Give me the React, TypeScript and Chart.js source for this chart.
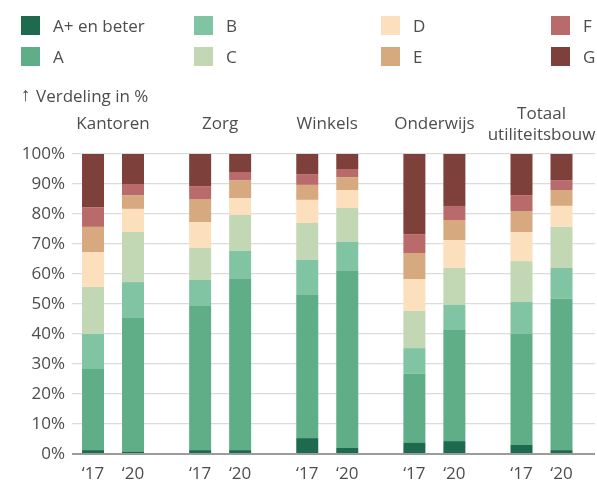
import React, { useEffect, useRef } from 'react';
import { Chart, registerables } from 'chart.js';

Chart.register(...registerables);

// ---------- data ----------
const groups: (string | string[])[] = ['Kantoren', 'Zorg', 'Winkels', 'Onderwijs', ['Totaal', 'utiliteitsbouw']];
const years = ['\u201817', '\u201820'];
const grades = ['A+ en beter', 'A', 'B', 'C', 'D', 'E', 'F', 'G'];
const gradeColors = ['#1d6a4e', '#5fae87', '#80c4a3', '#c2d7b4', '#fcdfbc', '#d6a97f', '#b96a6a', '#7e403b'];

// 2017 (Kantoren, Zorg, Winkels, Onderwijs, Totaal)
const aPlus17 = [1.3, 1.3, 5.3, 3.7, 3.0];
const a17 = [27.0, 48.0, 47.7, 23.0, 37.0];
const b17 = [11.7, 8.7, 11.7, 8.6, 10.7];
const c17 = [15.7, 10.7, 12.3, 12.4, 13.6];
const d17 = [11.6, 8.6, 7.7, 10.6, 9.7];
const e17 = [8.4, 7.7, 5.0, 8.7, 7.0];
const f17 = [6.6, 4.3, 3.6, 6.3, 5.3];
const g17 = [17.7, 10.7, 6.7, 26.7, 13.7];

// 2020
const aPlus20 = [0.7, 1.3, 2.0, 4.3, 1.3];
const a20 = [44.6, 57.0, 59.0, 37.0, 50.4];
const b20 = [12.0, 9.4, 9.7, 8.4, 10.3];
const c20 = [16.7, 12.0, 11.3, 12.3, 13.7];
const d20 = [7.7, 5.6, 6.0, 9.3, 7.0];
const e20 = [4.6, 6.0, 4.3, 6.7, 5.3];
const f20 = [3.7, 2.7, 2.7, 4.7, 3.3];
const g20 = [10.0, 6.0, 5.0, 17.3, 8.7];

const series17 = [aPlus17, a17, b17, c17, d17, e17, f17, g17];
const series20 = [aPlus20, a20, b20, c20, d20, e20, f20, g20];
const seriesByYear = [series17, series20];

const yTicks = [0, 10, 20, 30, 40, 50, 60, 70, 80, 90, 100];

// ---------- style ----------
const FONT = '"Open Sans", "Noto Sans", sans-serif';
const TEXT = '#4d4d4d';

const labelPlugin = {
  id: 'groupAndYearLabels',
  afterDraw(chart: any) {
    const { ctx, chartArea, scales } = chart;
    const x = scales.x;
    ctx.save();
    ctx.font = `17px ${FONT}`;
    ctx.fillStyle = TEXT;
    ctx.textAlign = 'center';
    ctx.textBaseline = 'alphabetic';
    groups.forEach((g, i) => {
      const lines = Array.isArray(g) ? g : [g];
      const cx = x.getPixelForValue(i);
      lines.forEach((line, k) => {
        ctx.fillText(line, cx, chartArea.top - 25 + (k - (lines.length - 1) / 2) * 21);
      });
    });
    years.forEach((yl, yi) => {
      const meta = chart.getDatasetMeta(yi * grades.length);
      meta.data.forEach((el: any) => {
        ctx.fillText(yl, el.x, chartArea.bottom + 25);
      });
    });
    ctx.restore();
  },
};

function BarChart() {
  const ref = useRef<HTMLCanvasElement | null>(null);
  useEffect(() => {
    if (!ref.current) return;
    const datasets: any[] = [];
    seriesByYear.forEach((series, yi) => {
      series.forEach((vals, gi) => {
        datasets.push({
          label: grades[gi],
          stack: years[yi],
          data: vals.map((v, i) => ({ x: i, y: v })),
          backgroundColor: gradeColors[gi],
          borderWidth: 0,
          categoryPercentage: 0.7468,
          barPercentage: 0.55,
        });
      });
    });
    const chart = new Chart(ref.current, {
      type: 'bar',
      data: { datasets },
      plugins: [labelPlugin],
      options: {
        animation: false,
        responsive: false,
        maintainAspectRatio: false,
        layout: { padding: { top: 154, bottom: 26, left: 0, right: 2 } },
        plugins: { legend: { display: false }, tooltip: { enabled: false } },
        scales: {
          x: {
            type: 'linear',
            stacked: true,
            display: false,
            offset: false,
            grid: { offset: false },
            min: -0.383,
            max: 4.4994,
            afterBuildTicks: (scale: any) => {
              scale.ticks = groups.map((_, i) => ({ value: i }));
            },
          },
          y: {
            stacked: true,
            min: 0,
            max: 100,
            afterBuildTicks: (scale: any) => {
              scale.ticks = yTicks.map((v) => ({ value: v }));
            },
            afterFit: (scale: any) => {
              scale.width = 72;
            },
            ticks: {
              callback: (v: any) => `${v}%`,
              padding: 7,
              color: TEXT,
              font: { family: FONT, size: 17 },
            },
            grid: {
              drawTicks: false,
              color: (c: any) => (c.tick && c.tick.value === 0 ? '#9b9b9b' : '#dcdcdc'),
              lineWidth: (c: any) => (c.tick && c.tick.value === 0 ? 2 : 1.2),
            },
            border: { display: false },
          },
        },
      } as any,
    });
    return () => chart.destroy();
  }, []);
  return (
    <canvas
      ref={ref}
      width={597}
      height={480}
      style={{ position: 'absolute', left: 0, top: 0, width: 597, height: 480, display: 'block' }}
    />
  );
}

const legendCols = [21, 194, 381, 551];
const legendRows = [16, 47];

export default function App() {
  useEffect(() => {
    document.body.style.margin = '0';
  }, []);
  return (
    <div style={{ position: 'relative', width: 597, height: 480, overflow: 'hidden', fontFamily: FONT, color: TEXT }}>
      <BarChart />
      {grades.map((g, k) => {
        const left = legendCols[Math.floor(k / 2)];
        const top = legendRows[k % 2];
        return (
          <div key={g} style={{ position: 'absolute', left, top, height: 19, whiteSpace: 'nowrap' }}>
            <span
              style={{
                position: 'absolute',
                left: 0,
                top: 0,
                width: 19,
                height: 19,
                background: gradeColors[k],
              }}
            />
            <span style={{ position: 'absolute', left: 32, top: 0, fontSize: 17, lineHeight: '19px' }}>{g}</span>
          </div>
        );
      })}
      <div style={{ position: 'absolute', left: 21, top: 86, fontSize: 17, lineHeight: '19px', whiteSpace: 'nowrap' }}>
        <span style={{ fontFamily: '"Liberation Sans", sans-serif', position: 'absolute', left: 0, top: -1, fontSize: 19 }}>{'\u2191'}</span>
        <span style={{ position: 'absolute', left: 15, top: 0 }}>Verdeling in %</span>
      </div>
    </div>
  );
}
